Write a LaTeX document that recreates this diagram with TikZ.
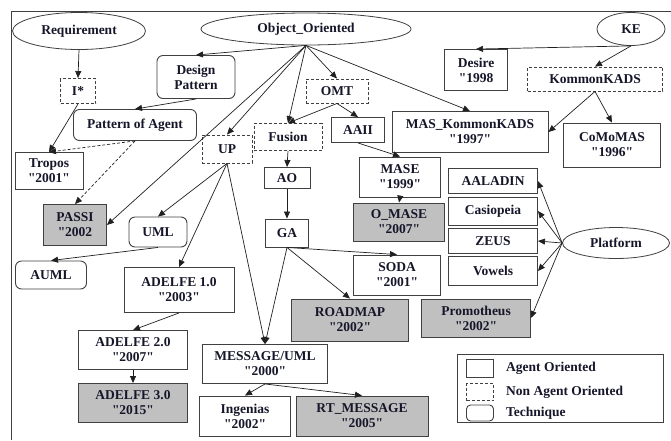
\documentclass[tikz,border=0pt]{standalone}
\usepackage{fontspec}
\setmainfont{Liberation Serif}[Ligatures=TeXOff]
\usetikzlibrary{arrows.meta,shapes.geometric}
\definecolor{bord}{HTML}{404040}
\definecolor{lin}{HTML}{202020}
\definecolor{boxgray}{HTML}{C0C0C0}
\definecolor{txt}{HTML}{16162A}
\begin{document}
\begin{tikzpicture}[x=1pt,y=-1pt,
  every node/.style={font=\fontsize{13.5}{15}\selectfont\bfseries, text=txt, align=center, inner sep=0pt},
  sz/.style 2 args={minimum width=#1pt, minimum height=#2pt},
  agent/.style={draw=bord, line width=0.9pt, rectangle, fill=white},
  nonagent/.style={agent, dash pattern=on 3pt off 2pt},
  tech/.style={agent, rounded corners=6pt},
  oval/.style={draw=bord, line width=0.8pt, ellipse, fill=white},
  grey/.style={agent, fill=boxgray},
  arr/.style={-{Triangle[length=7pt,width=6pt]}, line width=0.7pt, draw=lin},
  darr/.style={arr, dash pattern=on 3pt off 2pt}
]
\useasboundingbox (0,0) rectangle (671,440);
\draw[line width=1pt, draw=bord] (11,440) -- (11,11) -- (671,11);

% ovals
\node[oval, sz={133}{37}] (req) at (79,31) {Requirement};
\node[oval, sz={210}{32}] (oo) at (306,29) {Object\_Oriented};
\node[oval, sz={68}{33}] (ke) at (631,29) {KE};
\node[oval, sz={107}{31}] (plat) at (616,243) {Platform};

% techniques
\node[tech, sz={78}{43}] (dp) at (196,77) {Design\\Pattern};
\node[tech, sz={123}{31}] (poa) at (135,125) {Pattern of Agent};
\node[tech, sz={58}{30}] (uml) at (158,232) {UML};
\node[tech, sz={71}{28}] (auml) at (51,275) {AUML};

% non agent oriented
\node[nonagent, sz={35}{25}] (istar) at (78,91) {I*};
\node[nonagent, sz={62}{24}] (omt) at (337,91) {OMT};
\node[nonagent, sz={68}{27}] (fusion) at (288,137) {Fusion};
\node[nonagent, sz={50}{28}] (up) at (227,149) {UP};
\node[nonagent, sz={135}{24}] (kads) at (595,79) {KommonKADS};

% agent oriented
\node[agent, sz={53}{25}] (aaii) at (358,130) {AAII};
\node[agent, sz={156}{41}] (mask) at (470,132) {MAS\_KommonKADS\\"1997"};
\node[agent, sz={63}{41}] (desire) at (476,70) {Desire\\"1998};
\node[agent, sz={97}{44}] (como) at (612,145) {CoMoMAS\\"1996"};
\node[agent, sz={68}{37}] (tropos) at (49,171) {Tropos\\"2001"};
\node[grey, sz={63}{41}] (passi) at (75,225) {PASSI\\"2002};
\node[agent, sz={110}{45}] (ad1) at (179,290) {ADELFE 1.0\\"2003"};
\node[agent, sz={109}{39}] (ad2) at (133,350) {ADELFE 2.0\\"2007"};
\node[grey, sz={109}{39}] (ad3) at (133,403) {ADELFE 3.0\\"2015"};
\node[agent, sz={125}{39}] (msg) at (265,364) {MESSAGE/UML\\"2000"};
\node[agent, sz={91}{40}] (ing) at (245,416) {Ingenias\\"2002"};
\node[grey, sz={132}{40}] (rt) at (362,416) {RT\_MESSAGE\\"2005"};
\node[grey, sz={117}{42}] (road) at (350,320) {ROADMAP\\"2002"};
\node[agent, sz={87}{40}] (soda) at (397,275) {SODA\\"2001"};
\node[agent, sz={46}{21}] (ao) at (287,178) {AO};
\node[agent, sz={43}{28}] (ga) at (287,233) {GA};
\node[agent, sz={81}{40}] (mase) at (400,177) {MASE\\"1999"};
\node[grey, sz={91}{38}] (omase) at (399,222) {O\_MASE\\"2007"};
\node[agent, sz={89}{25}] (aal) at (493,181) {AALADIN};
\node[agent, sz={89}{28}] (cas) at (493,211) {Casiopeia};
\node[agent, sz={89}{25}] (zeus) at (493,241) {ZEUS};
\node[agent, sz={89}{29}] (vow) at (493,271) {Vowels};
\node[grey, sz={109}{38}] (prom) at (476,318) {Promotheus\\"2002"};

% edges
\draw[arr] (req.south) -- (istar.north);
\draw[arr] (istar.south) -- (tropos.north);
\draw[arr] (oo.south) -- (dp.north);
\draw[arr] (dp.south) -- (poa.north);
\draw[darr] (poa.south) -- (tropos.north);
\draw[darr] (poa.south) -- (passi.north);
\draw[arr] (oo.south) -- (passi.east);
\draw[arr] (oo.south) -- (up.north);
\draw[arr] (oo.south) -- (fusion.north);
\draw[arr] (oo.south) -- (omt.north);
\draw[arr] (oo.south) -- (mask.north);
\draw[arr] (omt.south) -- (fusion.north);
\draw[arr] (omt.south) -- (aaii.north);
\draw[arr] (aaii.south) -- (mase.north);
\draw[arr] (mase.south) -- (omase.north);
\draw[arr] (fusion.south) -- (ao.north);
\draw[arr] (ao.south) -- (ga.north);
\draw[arr] (ga.south) -- (soda.north);
\draw[arr] (ga.south) -- (road.north);
\draw[arr] (ga.south) -- (msg.north);
\draw[arr] (up.south) -- (msg.north);
\draw[arr] (up.south) -- (uml.north);
\draw[arr] (up.south) -- (ad1.north);
\draw[arr] (uml.south) -- (auml.north);
\draw[arr] (ad1.south) -- (ad2.north);
\draw[arr] (ad2.south) -- (ad3.north);
\draw[arr] (msg.south) -- (ing.north);
\draw[arr] (msg.south) -- (rt.north);
\draw[arr] (ke.south) -- (desire.north);
\draw[arr] (ke.south) -- (kads.north);
\draw[arr] (kads.south) -- (mask.east);
\draw[arr] (kads.south) -- (como.north);
\draw[arr] (plat.west) -- (aal.east);
\draw[arr] (plat.west) -- (cas.east);
\draw[arr] (plat.west) -- (zeus.east);
\draw[arr] (plat.west) -- (vow.east);
\draw[arr] (plat.west) -- (prom.east);

% legend
\node[draw=bord, line width=0.9pt, sz={206}{68}] (legend) at (560,388) {};
\node[agent, sz={27}{18}] (lga) at (480,368) {};
\node[nonagent, sz={27}{17}] (lgn) at (480,392) {};
\node[tech, rounded corners=4pt, sz={27}{16}] (lgt) at (480,413) {};
\node[anchor=west] (lta) at (506,368) {Agent Oriented};
\node[anchor=west] (ltn) at (506,392) {Non Agent Oriented};
\node[anchor=west] (ltt) at (506,413) {Technique};
\end{tikzpicture}
\end{document}
